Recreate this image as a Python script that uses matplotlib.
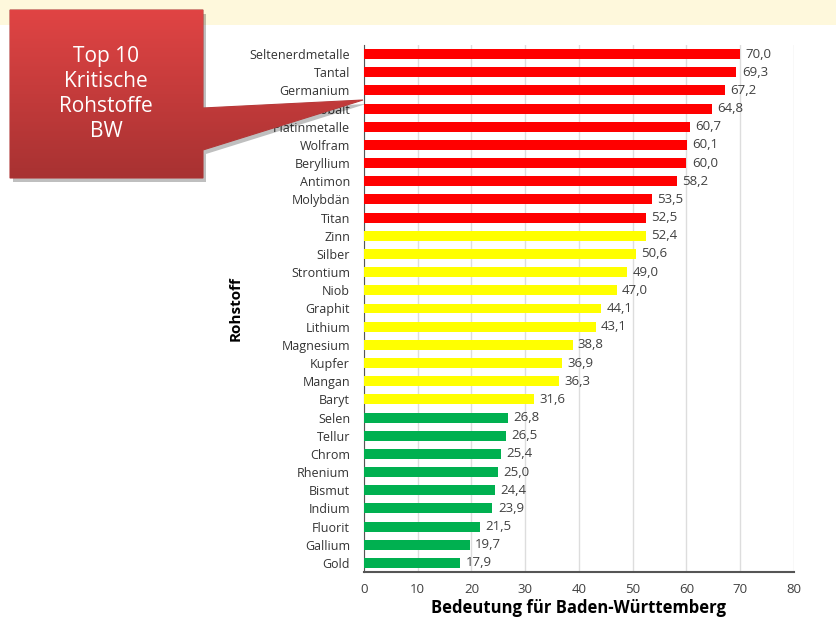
import numpy as np
import matplotlib.pyplot as plt
from matplotlib.patches import Polygon, Rectangle

plt.rcParams['font.family'] = ['Open Sans', 'DejaVu Sans']

rohstoffe = ['Seltenerdmetalle', 'Tantal', 'Germanium', 'Cobalt', 'Platinmetalle',
             'Wolfram', 'Beryllium', 'Antimon', 'Molybdän', 'Titan',
             'Zinn', 'Silber', 'Strontium', 'Niob', 'Graphit',
             'Lithium', 'Magnesium', 'Kupfer', 'Mangan', 'Baryt',
             'Selen', 'Tellur', 'Chrom', 'Rhenium', 'Bismut',
             'Indium', 'Fluorit', 'Gallium', 'Gold']
werte = [70.0, 69.3, 67.2, 64.8, 60.7, 60.1, 60.0, 58.2, 53.5, 52.5,
         52.4, 50.6, 49.0, 47.0, 44.1, 43.1, 38.8, 36.9, 36.3, 31.6,
         26.8, 26.5, 25.4, 25.0, 24.4, 23.9, 21.5, 19.7, 17.9]
gruppen = ['rot'] * 10 + ['gelb'] * 10 + ['gruen'] * 9
farben = {'rot': '#FF0000', 'gelb': '#FFFF00', 'gruen': '#00B050'}
xticks = [0, 10, 20, 30, 40, 50, 60, 70, 80]

W, H = 837, 619
fig = plt.figure(figsize=(W / 100, H / 100), dpi=100)
fig.patch.set_facecolor('white')

# background overlay in pixel coordinates
bg = fig.add_axes([0, 0, 1, 1], zorder=0)
bg.set_xlim(0, W)
bg.set_ylim(H, 0)
bg.axis('off')
bg.add_patch(Rectangle((0, 0), W, 25, color='#FEF8DC', lw=0))

ax = fig.add_axes([364 / W, 1 - 572 / H, (794 - 364) / W, (572 - 45) / H], zorder=1)
ax.patch.set_alpha(0)
y = np.arange(len(rohstoffe))
ax.barh(y, werte, height=0.55, color=[farben[g] for g in gruppen], zorder=3)
for yi, v in zip(y, werte):
    ax.text(v + 1.0, yi, f'{v:.1f}'.replace('.', ','), va='center', ha='left',
            fontsize=9.5, color='#404040', zorder=4)

ax.set_ylim(len(rohstoffe) - 0.5, -0.5)
ax.set_xlim(0, 80)
ax.set_yticks(y)
ax.set_yticklabels(rohstoffe, fontsize=9, color='#333333')
ax.set_xticks(xticks)
ax.set_xticklabels([str(t) for t in xticks], fontsize=9.5, color='#404040')
ax.tick_params(axis='y', length=0, pad=10)
ax.tick_params(axis='x', length=0, pad=8)
ax.grid(axis='x', color='#DDDDDD', lw=1, zorder=0)
for s in ['top', 'right']:
    ax.spines[s].set_visible(False)
ax.spines['left'].set_color('#555555')
ax.spines['bottom'].set_color('#555555')
ax.spines['bottom'].set_linewidth(1.5)
ax.set_xlabel('Bedeutung für Baden-Württemberg', fontsize=12, fontweight='bold', labelpad=2)
ax.set_ylabel('Rohstoff', fontsize=11, fontweight='bold', labelpad=5)

# callout box
ov = fig.add_axes([0, 0, 1, 1], zorder=5)
ov.set_xlim(0, W)
ov.set_ylim(H, 0)
ov.axis('off')
shape = [(10, 10), (203, 10), (203, 108), (363, 100), (203, 150), (203, 178), (10, 178)]
shadow = Polygon([(px + 3, py + 4) for px, py in shape], closed=True, color='black', alpha=0.25, lw=0)
ov.add_patch(shadow)
poly = Polygon(shape, closed=True, facecolor='none', edgecolor='#B03838', lw=0.8)
ov.add_patch(poly)
grad = np.linspace(0, 1, 100).reshape(-1, 1)
img = ov.imshow(grad, extent=(10, 363, 178, 10), cmap=plt.matplotlib.colors.LinearSegmentedColormap.from_list(
    'c', ['#E04444', '#A83232']), aspect='auto', zorder=1)
img.set_clip_path(poly)
ov.set_xlim(0, W)
ov.set_ylim(H, 0)
ov.text(106, 94, 'Top 10\nKritische\nRohstoffe\nBW', color='white', fontsize=15,
        ha='center', va='center', linespacing=1.25, zorder=3)

fig.savefig('out.png', dpi=100)
